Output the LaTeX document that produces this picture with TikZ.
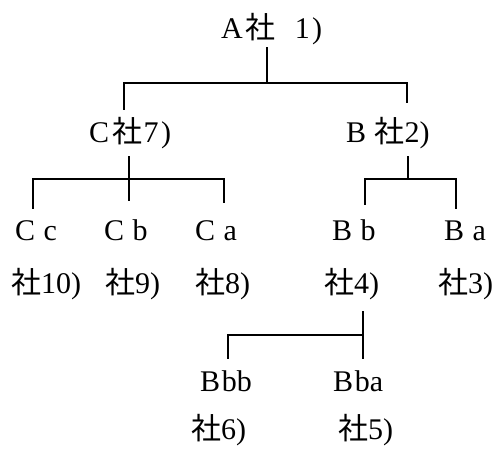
\documentclass[tikz,border=0pt]{standalone}
\usepackage{fontspec}
\setmainfont{Liberation Serif}
\newfontfamily\jpfont{Noto Sans CJK JP}
\newcommand{\sha}{{\jpfont 社}}
\newcommand{\gap}{\hspace{0.28em}}
\newcommand{\tgap}{\hspace{0.06em}}
\begin{document}
\begin{tikzpicture}[x=1pt,y=-1pt,
  lbl/.style={anchor=base west,inner sep=0pt,font=\fontsize{30}{34}\selectfont},
  link/.style={line width=1.6pt,line cap=rect}]
\useasboundingbox (0,0) rectangle (500,448);

% company labels
\node[lbl] (A)   at (221,38)  {A\hspace{0.08em}\sha\hspace{0.65em}1\hspace{0.08em})};
\node[lbl] (C)   at (89,142)  {C\hspace{0.1em}\sha\hspace{0.05em}7\hspace{0.08em})};
\node[lbl] (B)   at (346,142) {B\gap\sha2)};
\node[lbl] (Cc)  at (15,240)  {C\gap c};
\node[lbl] (Cb)  at (104,240) {C\gap b};
\node[lbl] (Ca)  at (195,240) {C\gap a};
\node[lbl] (Bb)  at (332,240) {B\gap b};
\node[lbl] (Ba)  at (444,240) {B\gap a};
\node[lbl] (Cc2) at (11,293)  {\sha10)};
\node[lbl] (Cb2) at (105,293) {\sha9)};
\node[lbl] (Ca2) at (195,293) {\sha8)};
\node[lbl] (Bb2) at (324,293) {\sha4)};
\node[lbl] (Ba2) at (438,293) {\sha3)};
\node[lbl] (Bbb) at (200,391) {B\tgap bb};
\node[lbl] (Bba) at (333,391) {B\tgap ba};
\node[lbl] (Bbb2) at (191,439) {\sha6)};
\node[lbl] (Bba2) at (338,439) {\sha5)};

% junction points
\coordinate (jA) at (267,83);
\coordinate (jC) at (129,179);
\coordinate (jB) at (408,179);
\coordinate (jBb) at (363,335);

% A -> C, B
\draw[link] (267,48) -- (jA);
\draw[link] (124,109) -- (124,83) -- (407,83) -- (407,102);
% C -> Cc, Cb, Ca
\draw[link] (129,157) -- (129,200);
\draw[link] (33,208) -- (33,179) -- (224,179) -- (224,202);
% B -> Bb, Ba
\draw[link] (408,157) -- (jB);
\draw[link] (365,204) -- (365,179) -- (456,179) -- (456,208);
% Bb -> Bbb, Bba
\draw[link] (363,312) -- (363,358);
\draw[link] (228,358) -- (228,335) -- (jBb);
\end{tikzpicture}
\end{document}
